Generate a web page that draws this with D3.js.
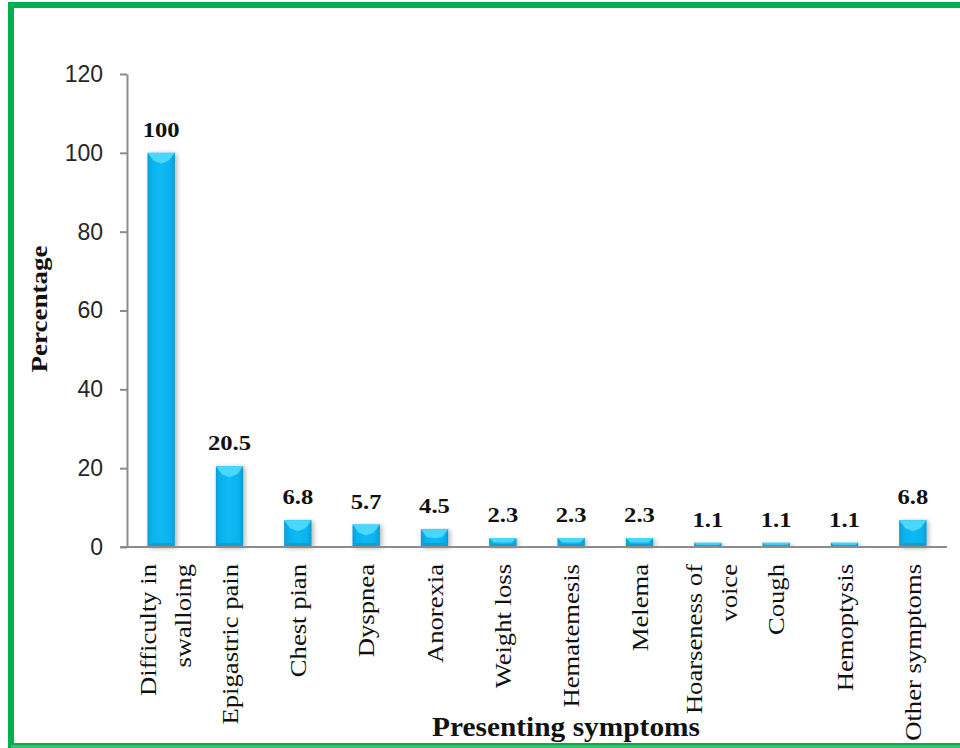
<!DOCTYPE html>
<html>
<head>
<meta charset="utf-8">
<script src="https://cdn.jsdelivr.net/npm/d3@7/dist/d3.min.js"></script>
<style>
  html, body { margin: 0; padding: 0; background: #fff; }
  svg { display: block; }
</style>
</head>
<body>
<svg id="chart" width="960" height="748"></svg>
<script>
// Presenting symptoms (percentage of patients)
const categories = [
  ["Difficulty in", "swalloing"],
  ["Epigastric pain"],
  ["Chest pian"],
  ["Dyspnea"],
  ["Anorexia"],
  ["Weight loss"],
  ["Hematemesis"],
  ["Melema"],
  ["Hoarseness of", "voice"],
  ["Cough"],
  ["Hemoptysis"],
  ["Other symptoms"]
];
const values = [100, 20.5, 6.8, 5.7, 4.5, 2.3, 2.3, 2.3, 1.1, 1.1, 1.1, 6.8];
const valueLabels = ["100", "20.5", "6.8", "5.7", "4.5", "2.3", "2.3", "2.3", "1.1", "1.1", "1.1", "6.8"];
const yTicks = [0, 20, 40, 60, 80, 100, 120];

const svg = d3.select("#chart");
const W = 960, H = 748;
const plot = { left: 127, right: 947, top: 74, bottom: 547 };
const serif = "'Liberation Serif', 'Times New Roman', serif";

// Green frame
svg.append("rect")
  .attr("x", 11).attr("y", 5)
  .attr("width", W + 20).attr("height", 741)
  .attr("fill", "none")
  .attr("stroke", "#00b050")
  .attr("stroke-width", 6);
svg.append("line")
  .attr("x1", 11).attr("x2", W).attr("y1", 746.5).attr("y2", 746.5)
  .attr("stroke", "#3cc070").attr("stroke-width", 3);

const x = d3.scaleBand()
  .domain(d3.range(categories.length))
  .range([plot.left, plot.right])
  .paddingInner(0.6).paddingOuter(0.3);

const y = d3.scaleLinear().domain([0, 120]).range([plot.bottom, plot.top]);

const defs = svg.append("defs");
const side = defs.append("linearGradient").attr("id", "barSide")
  .attr("x1", "0").attr("x2", "1").attr("y1", "0").attr("y2", "0");
side.append("stop").attr("offset", "0").attr("stop-color", "#0a98cf");
side.append("stop").attr("offset", "0.12").attr("stop-color", "#06b0ec");
side.append("stop").attr("offset", "0.5").attr("stop-color", "#0cbaf3");
side.append("stop").attr("offset", "0.88").attr("stop-color", "#06b0ec");
side.append("stop").attr("offset", "1").attr("stop-color", "#0a94c9");

const shadow = defs.append("filter").attr("id", "barShadow")
  .attr("x", "-30%").attr("y", "-10%").attr("width", "170%").attr("height", "130%");
shadow.append("feGaussianBlur").attr("in", "SourceAlpha").attr("stdDeviation", 2.5);
shadow.append("feOffset").attr("dx", 2).attr("dy", 1).attr("result", "b");
shadow.append("feComponentTransfer").append("feFuncA").attr("type", "linear").attr("slope", 0.3);
const merge = shadow.append("feMerge");
merge.append("feMergeNode");
merge.append("feMergeNode").attr("in", "SourceGraphic");

// Y axis
const yAxis = svg.append("g")
  .attr("transform", `translate(${plot.left},0)`)
  .call(d3.axisLeft(y).tickValues(yTicks).tickSize(7).tickSizeOuter(0).tickPadding(17));
yAxis.select(".domain").attr("stroke", "#8c8c8c").attr("stroke-width", 2);
yAxis.selectAll(".tick line").attr("stroke", "#8c8c8c").attr("stroke-width", 2);
yAxis.selectAll(".tick text")
  .attr("font-family", "'Liberation Sans', Arial, sans-serif")
  .attr("font-size", 23)
  .attr("fill", "#262626");

// Bars
const bars = svg.append("g").selectAll("g.bar")
  .data(values)
  .join("g")
  .attr("class", "bar")
  .attr("filter", "url(#barShadow)");

bars.append("rect")
  .attr("x", (d, i) => x(i))
  .attr("y", d => y(d))
  .attr("width", x.bandwidth())
  .attr("height", d => y(0) - y(d))
  .attr("fill", "url(#barSide)");

// Bevelled top face
bars.append("path")
  .attr("d", (d, i) => {
    const x0 = x(i), w = x.bandwidth(), t = y(d), h = y(0) - y(d);
    const dep = Math.min(8, h / 2);
    const ins = Math.min(6, h / 2);
    return `M${x0},${t}L${x0 + w},${t}L${x0 + w - ins},${t + dep}L${x0 + w / 2},${t + Math.min(h / 2, dep + 3)}L${x0 + ins},${t + dep}Z`;
  })
  .attr("fill", "#4cd6fb");

// Darker bottom edge
bars.append("path")
  .attr("d", (d, i) => {
    const x0 = x(i), w = x.bandwidth(), b = y(0), h = y(0) - y(d);
    const dep = Math.min(4, h / 3);
    return `M${x0},${b}L${x0 + w},${b}L${x0 + w - dep},${b - dep}L${x0 + dep},${b - dep}Z`;
  })
  .attr("fill", "#0b9fd6");

// X axis line
svg.append("line")
  .attr("x1", plot.left - 7).attr("x2", plot.right)
  .attr("y1", y(0)).attr("y2", y(0))
  .attr("stroke", "#8c8c8c").attr("stroke-width", 2);

// Value labels
svg.append("g").selectAll("text")
  .data(values)
  .join("text")
  .attr("transform", (d, i) => `translate(${x(i) + x.bandwidth() / 2},${y(d) - 16}) scale(1.12,1)`)
  .attr("text-anchor", "middle")
  .attr("font-family", serif)
  .attr("font-weight", "bold")
  .attr("font-size", 22)
  .attr("fill", "#111")
  .text((d, i) => valueLabels[i]);

// Category labels (rotated, slightly stretched along the reading direction)
const lineGap = 35;
const catG = svg.append("g").selectAll("g")
  .data(categories)
  .join("g")
  .attr("transform", (d, i) => `translate(${x(i) + x.bandwidth() / 2},${y(0) + 17}) rotate(-90) scale(1.11,1)`);
catG.each(function (lines) {
  const g = d3.select(this);
  const n = lines.length;
  lines.forEach((line, k) => {
    const off = (k - (n - 1) / 2) * lineGap + 8;
    g.append("text")
      .attr("x", 0)
      .attr("y", off + (n > 1 ? 4 : 0))
      .attr("text-anchor", "end")
      .attr("font-family", serif)
      .attr("font-size", 24)
      .attr("fill", "#111")
      .text(line);
  });
});

// Axis titles
svg.append("text")
  .attr("x", 566).attr("y", 736)
  .attr("text-anchor", "middle")
  .attr("font-family", serif)
  .attr("font-weight", "bold")
  .attr("font-size", 28)
  .attr("textLength", 268)
  .attr("lengthAdjust", "spacingAndGlyphs")
  .attr("fill", "#111")
  .text("Presenting symptoms");

svg.append("text")
  .attr("transform", "translate(47,309) rotate(-90)")
  .attr("text-anchor", "middle")
  .attr("font-family", serif)
  .attr("font-weight", "bold")
  .attr("font-size", 23)
  .attr("textLength", 127)
  .attr("lengthAdjust", "spacingAndGlyphs")
  .attr("fill", "#111")
  .text("Percentage");
</script>
</body>
</html>
